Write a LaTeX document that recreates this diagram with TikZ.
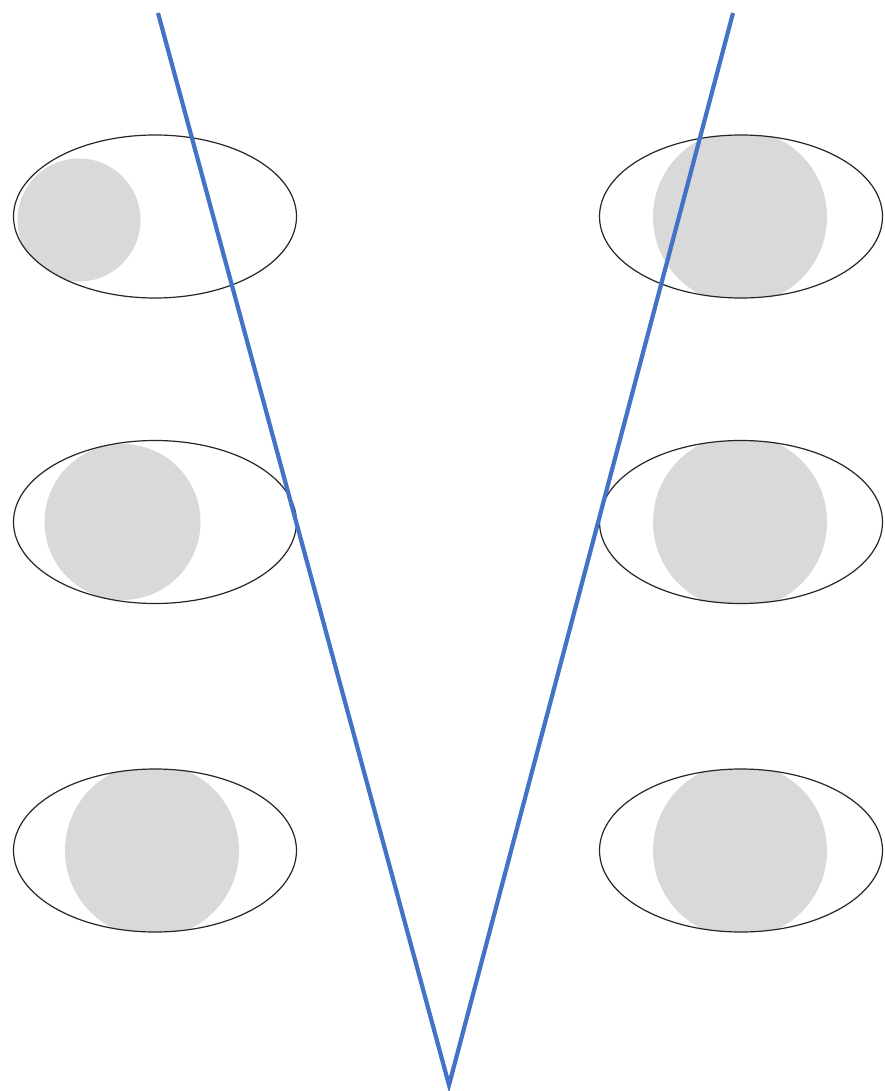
\documentclass[tikz,border=0pt]{standalone}
\definecolor{vblue}{HTML}{4472C4}
\definecolor{pupil}{HTML}{D9D9D9}
\tikzset{
  eyeoutline/.style={draw=black!85, line width=1.2pt},
  vline/.style={draw=vblue, line width=4.2pt},
}
\newcommand{\eyeshape}[5]{% cx, cy, pupil cx, pupil cy, pupil r
  \begin{scope}
    \clip (#1,#2) ellipse [x radius=141.5, y radius=81.5];
    \fill[pupil] (#3,#4) circle [radius=#5];
  \end{scope}
  \draw[eyeoutline] (#1,#2) ellipse [x radius=141.5, y radius=81.5];
}
\begin{document}
\begin{tikzpicture}[x=1pt,y=-1pt]
\useasboundingbox (0,0) rectangle (884,1091);
\fill[white] (0,0) rectangle (884,1091);
% left column
\eyeshape{155}{216.5}{79}{220}{61.5}
\eyeshape{155}{522}{122.5}{522}{78}
\eyeshape{155}{850.5}{152}{850.5}{87}
% right column
\eyeshape{741}{216.5}{740}{217}{87}
\eyeshape{741}{522}{740}{522}{87}
\eyeshape{741}{850.5}{740}{850.5}{87}
% V lines
\coordinate (lt) at (158,13);
\coordinate (rt) at (733,13);
\coordinate (bot) at (449,1085);
\draw[vline] (lt) -- (bot) -- (rt);
\end{tikzpicture}
\end{document}
